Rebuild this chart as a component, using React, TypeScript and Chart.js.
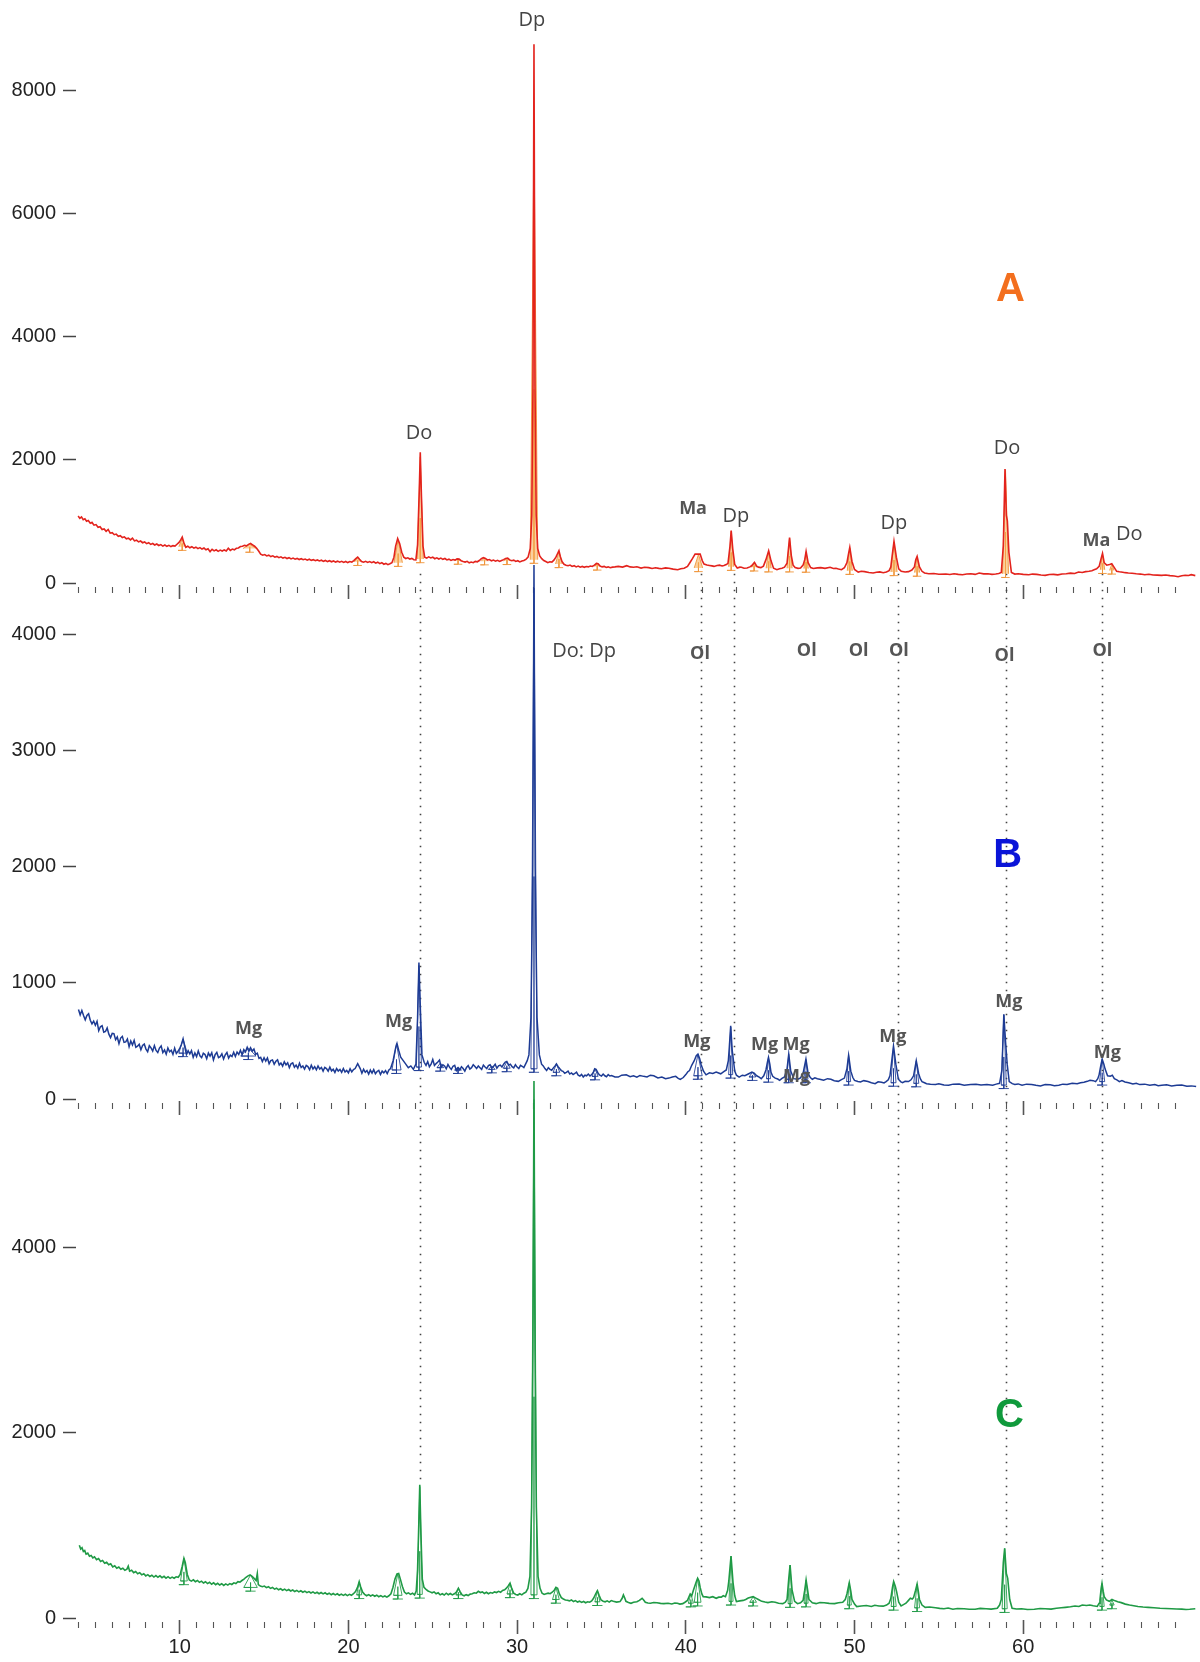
import React, { useEffect, useRef } from 'react';
import { Chart, registerables } from 'chart.js';

Chart.register(...registerables);

// ---------- data (2θ in degrees, intensity in counts) ----------
const patternA: [number, number][] = [
  [3.98, 1090], [4.08, 1050], [4.18, 1075], [4.28, 1030], [4.38, 1045], [4.48, 1005], [4.58, 1015], [4.7, 970], [4.8, 985], [4.92, 940],
  [5.04, 950], [5.16, 905], [5.28, 915], [5.4, 870], [5.52, 880], [5.64, 840], [5.76, 870], [5.88, 810], [6.0, 818], [6.12, 785],
  [6.24, 795], [6.36, 760], [6.48, 770], [6.6, 738], [6.72, 750], [6.84, 718], [6.96, 728], [7.08, 700], [7.2, 730], [7.32, 684],
  [7.44, 695], [7.56, 668], [7.68, 682], [7.8, 655], [7.92, 668], [8.04, 640], [8.16, 655], [8.28, 628], [8.4, 642], [8.52, 618],
  [8.64, 634], [8.76, 610], [8.88, 625], [9.0, 600], [9.12, 618], [9.24, 596], [9.36, 612], [9.48, 592], [9.6, 608], [9.72, 600],
  [9.84, 630], [9.96, 660], [10.06, 700], [10.15, 745], [10.25, 650], [10.36, 580], [10.48, 598], [10.6, 572], [10.72, 590], [10.84, 566],
  [10.96, 582], [11.08, 558], [11.2, 575], [11.32, 552], [11.44, 568], [11.56, 540], [11.68, 555], [11.8, 510], [11.92, 548], [12.04, 522],
  [12.16, 540], [12.28, 515], [12.4, 535], [12.52, 520], [12.64, 538], [12.76, 522], [12.88, 565], [13.0, 530], [13.12, 552], [13.24, 540],
  [13.36, 565], [13.48, 570], [13.6, 592], [13.72, 598], [13.84, 612], [13.96, 605], [14.08, 628], [14.2, 642], [14.32, 620], [14.44, 598],
  [14.56, 565], [14.68, 520], [14.8, 470], [14.92, 452], [15.04, 462], [15.16, 440], [15.28, 452], [15.4, 430], [15.52, 442], [15.64, 420],
  [15.76, 432], [15.88, 412], [16.0, 425], [16.12, 405], [16.24, 418], [16.36, 398], [16.48, 412], [16.6, 392], [16.72, 405], [16.84, 388],
  [16.96, 400], [17.08, 382], [17.2, 395], [17.32, 378], [17.44, 390], [17.56, 372], [17.68, 386], [17.8, 368], [17.92, 380], [18.04, 362],
  [18.16, 375], [18.28, 358], [18.4, 370], [18.52, 352], [18.64, 366], [18.76, 348], [18.88, 362], [19.0, 345], [19.12, 358], [19.24, 340],
  [19.36, 355], [19.48, 338], [19.6, 352], [19.72, 335], [19.84, 350], [19.96, 332], [20.08, 348], [20.2, 340], [20.32, 365], [20.44, 395],
  [20.55, 422], [20.66, 385], [20.78, 350], [20.9, 338], [21.02, 352], [21.14, 335], [21.26, 348], [21.38, 330], [21.5, 345], [21.62, 322],
  [21.74, 338], [21.86, 315], [21.98, 330], [22.1, 305], [22.22, 318], [22.34, 298], [22.46, 312], [22.58, 330], [22.7, 420], [22.8, 600],
  [22.92, 722], [23.04, 640], [23.16, 500], [23.28, 420], [23.4, 398], [23.52, 410], [23.64, 390], [23.76, 400], [23.88, 378], [24.0, 375],
  [24.1, 620], [24.2, 1500], [24.26, 2124], [24.33, 1400], [24.42, 600], [24.52, 420], [24.64, 405], [24.76, 425], [24.88, 408], [25.0, 420],
  [25.12, 395], [25.24, 410], [25.36, 390], [25.48, 405], [25.6, 385], [25.72, 398], [25.84, 375], [25.96, 388], [26.08, 368], [26.2, 382],
  [26.32, 372], [26.44, 392], [26.56, 388], [26.68, 362], [26.8, 350], [26.92, 340], [27.04, 352], [27.16, 328], [27.28, 340], [27.4, 330],
  [27.52, 352], [27.64, 345], [27.76, 365], [27.88, 395], [28.0, 412], [28.12, 400], [28.24, 375], [28.36, 382], [28.48, 360], [28.6, 372],
  [28.72, 355], [28.84, 368], [28.96, 350], [29.08, 365], [29.2, 380], [29.32, 400], [29.44, 405], [29.56, 375], [29.68, 362], [29.8, 372],
  [29.92, 350], [30.04, 362], [30.16, 342], [30.28, 358], [30.4, 365], [30.52, 385], [30.65, 420], [30.78, 560], [30.87, 1100], [30.94, 3200],
  [31.0, 8760], [31.06, 3200], [31.13, 1100], [31.22, 560], [31.34, 440], [31.46, 395], [31.58, 365], [31.7, 350], [31.82, 330], [31.94, 345],
  [32.06, 340], [32.18, 372], [32.3, 420], [32.4, 480], [32.48, 525], [32.56, 430], [32.66, 350], [32.78, 305], [32.9, 290], [33.02, 282],
  [33.14, 292], [33.26, 270], [33.38, 282], [33.5, 262], [33.62, 275], [33.74, 258], [33.86, 270], [33.98, 255], [34.1, 268], [34.22, 262],
  [34.34, 275], [34.46, 268], [34.58, 292], [34.7, 318], [34.8, 312], [34.92, 275], [35.04, 262], [35.16, 270], [35.28, 252], [35.4, 262],
  [35.52, 248], [35.66, 258], [35.8, 262], [36.0, 270], [36.25, 258], [36.5, 281], [36.7, 262], [36.9, 255], [37.1, 265], [37.35, 243],
  [37.55, 256], [37.8, 250], [38.0, 236], [38.2, 248], [38.4, 238], [38.55, 232], [38.8, 246], [39.0, 240], [39.25, 226], [39.52, 216],
  [39.7, 232], [39.9, 240], [40.1, 270], [40.24, 330], [40.4, 400], [40.55, 470], [40.85, 470], [40.98, 360], [41.08, 308], [41.25, 292],
  [41.4, 285], [41.55, 278], [41.67, 270], [41.85, 285], [42.0, 290], [42.15, 278], [42.26, 286], [42.4, 300], [42.5, 320], [42.62, 600],
  [42.69, 854], [42.78, 560], [42.9, 300], [43.05, 243], [43.2, 258], [43.3, 255], [43.45, 240], [43.63, 243], [43.8, 262], [43.9, 280],
  [44.07, 335], [44.2, 275], [44.3, 258], [44.45, 250], [44.6, 275], [44.75, 380], [44.91, 524], [45.05, 360], [45.2, 240], [45.4, 216],
  [45.55, 232], [45.7, 240], [45.85, 258], [46.0, 320], [46.1, 600], [46.15, 740], [46.25, 450], [46.36, 290], [46.48, 250], [46.65, 238],
  [46.8, 245], [46.95, 290], [47.05, 380], [47.13, 514], [47.25, 330], [47.4, 252], [47.56, 235], [47.8, 246], [48.0, 250], [48.25, 238],
  [48.55, 255], [48.75, 236], [48.9, 240], [49.05, 228], [49.23, 216], [49.4, 248], [49.55, 330], [49.65, 480], [49.72, 578], [49.85, 350],
  [50.0, 220], [50.22, 178], [50.4, 192], [50.6, 185], [50.85, 170], [51.1, 162], [51.3, 175], [51.5, 180], [51.7, 168], [51.89, 178],
  [52.05, 200], [52.15, 260], [52.25, 480], [52.34, 676], [52.48, 420], [52.62, 230], [52.77, 190], [53.0, 178], [53.2, 185], [53.4, 210],
  [53.55, 260], [53.63, 380], [53.71, 432], [53.85, 260], [54.0, 190], [54.15, 162], [54.4, 150], [54.7, 155], [55.0, 142], [55.42, 146],
  [55.65, 138], [55.9, 150], [56.15, 140], [56.4, 135], [56.65, 146], [56.9, 150], [57.15, 140], [57.39, 162], [57.65, 148], [57.9, 150],
  [58.15, 140], [58.37, 146], [58.55, 155], [58.7, 170], [58.82, 600], [58.92, 1854], [59.0, 1100], [59.06, 1011], [59.15, 500], [59.3, 170],
  [59.5, 145], [59.7, 150], [60.0, 140], [60.33, 135], [60.55, 145], [60.8, 140], [61.05, 130], [61.3, 124], [61.55, 138], [61.8, 140],
  [62.05, 132], [62.3, 146], [62.55, 150], [62.8, 160], [63.05, 155], [63.28, 178], [63.5, 170], [63.7, 185], [63.9, 192], [64.07, 200],
  [64.2, 215], [64.35, 230], [64.5, 270], [64.62, 400], [64.7, 481], [64.8, 330], [64.95, 290], [65.12, 300], [65.25, 313], [65.4, 250],
  [65.54, 190], [65.7, 182], [65.9, 175], [66.05, 168], [66.23, 162], [66.45, 158], [66.7, 150], [66.95, 145], [67.2, 135], [67.45, 142],
  [67.7, 130], [67.95, 128], [68.2, 124], [68.45, 130], [68.7, 120], [68.95, 115], [69.18, 103], [69.4, 118], [69.6, 125], [69.8, 122],
  [69.96, 135], [70.2, 120],
];

const patternB: [number, number][] = [
  [4.0, 771], [4.1, 724], [4.2, 762], [4.3, 720], [4.4, 682], [4.5, 720], [4.6, 734], [4.7, 678], [4.8, 647], [4.9, 671],
  [5.0, 635], [5.1, 669], [5.2, 588], [5.3, 622], [5.4, 631], [5.5, 575], [5.6, 581], [5.7, 612], [5.8, 558], [5.9, 529],
  [6.0, 565], [6.1, 563], [6.2, 511], [6.3, 534], [6.4, 477], [6.5, 525], [6.6, 539], [6.7, 488], [6.8, 492], [6.9, 516],
  [7.0, 450], [7.1, 500], [7.2, 465], [7.3, 505], [7.4, 445], [7.5, 455], [7.6, 472], [7.7, 424], [7.8, 461], [7.9, 473],
  [8.0, 430], [8.1, 407], [8.2, 459], [8.3, 441], [8.4, 413], [8.5, 460], [8.6, 418], [8.7, 401], [8.8, 439], [8.9, 457],
  [9.0, 400], [9.1, 423], [9.2, 386], [9.3, 439], [9.4, 407], [9.5, 420], [9.6, 384], [9.7, 438], [9.8, 392], [9.9, 411],
  [10.0, 435], [10.1, 470], [10.2, 518], [10.3, 450], [10.4, 382], [10.5, 415], [10.6, 388], [10.7, 416], [10.8, 359], [10.9, 397],
  [11.0, 365], [11.1, 414], [11.2, 372], [11.3, 356], [11.4, 394], [11.5, 383], [11.6, 347], [11.7, 396], [11.8, 369], [11.9, 398],
  [12.0, 337], [12.1, 382], [12.2, 401], [12.3, 356], [12.4, 365], [12.5, 390], [12.6, 345], [12.7, 381], [12.8, 401], [12.9, 352],
  [13.0, 377], [13.1, 365], [13.2, 403], [13.3, 366], [13.4, 404], [13.5, 383], [13.6, 420], [13.7, 382], [13.8, 425], [13.9, 406],
  [14.0, 445], [14.1, 410], [14.2, 442], [14.3, 413], [14.4, 430], [14.5, 385], [14.6, 395], [14.7, 350], [14.8, 358], [14.9, 323],
  [15.0, 355], [15.1, 326], [15.2, 353], [15.3, 304], [15.4, 331], [15.5, 337], [15.6, 299], [15.7, 325], [15.8, 337], [15.9, 293],
  [16.0, 310], [16.1, 283], [16.2, 321], [16.3, 294], [16.4, 312], [16.5, 270], [16.6, 303], [16.7, 311], [16.8, 274], [16.9, 292],
  [17.0, 265], [17.1, 308], [17.2, 271], [17.3, 284], [17.4, 257], [17.5, 290], [17.6, 279], [17.7, 252], [17.8, 291], [17.9, 259],
  [18.0, 278], [18.1, 251], [18.2, 285], [18.3, 258], [18.4, 272], [18.5, 240], [18.6, 273], [18.7, 262], [18.8, 240], [18.9, 274],
  [19.0, 242], [19.1, 256], [19.2, 229], [19.3, 263], [19.4, 241], [19.5, 255], [19.6, 229], [19.7, 263], [19.8, 232], [19.9, 246],
  [20.0, 225], [20.1, 260], [20.2, 234], [20.3, 254], [20.4, 262], [20.55, 305], [20.7, 262], [20.8, 222], [20.9, 256], [21.0, 230],
  [21.1, 245], [21.2, 214], [21.3, 249], [21.4, 223], [21.5, 253], [21.6, 217], [21.7, 237], [21.8, 246], [21.9, 211], [22.0, 240],
  [22.1, 225], [22.2, 244], [22.3, 219], [22.4, 250], [22.5, 262], [22.65, 330], [22.8, 440], [22.88, 478], [22.98, 420], [23.1, 360],
  [23.25, 330], [23.4, 300], [23.55, 270], [23.7, 285], [23.85, 255], [24.0, 300], [24.1, 700], [24.18, 1175], [24.26, 800], [24.36, 380],
  [24.49, 316], [24.6, 290], [24.7, 322], [24.8, 278], [24.9, 300], [25.0, 340], [25.1, 288], [25.2, 305], [25.3, 318], [25.4, 335],
  [25.5, 275], [25.6, 295], [25.7, 285], [25.8, 260], [25.9, 298], [26.0, 272], [26.1, 255], [26.2, 282], [26.3, 290], [26.4, 245],
  [26.5, 268], [26.6, 250], [26.7, 278], [26.8, 262], [26.9, 240], [27.0, 272], [27.1, 288], [27.2, 258], [27.3, 270], [27.4, 295],
  [27.5, 280], [27.6, 262], [27.7, 285], [27.8, 270], [27.9, 255], [28.0, 292], [28.1, 275], [28.2, 262], [28.3, 288], [28.4, 295],
  [28.5, 268], [28.6, 280], [28.7, 300], [28.8, 265], [28.9, 285], [29.0, 292], [29.1, 275], [29.2, 300], [29.3, 318], [29.39, 324],
  [29.5, 292], [29.6, 300], [29.7, 278], [29.8, 268], [29.9, 295], [30.0, 275], [30.1, 262], [30.2, 290], [30.3, 282], [30.4, 270],
  [30.5, 300], [30.6, 330], [30.7, 380], [30.82, 700], [30.93, 2000], [31.0, 4600], [31.07, 2000], [31.18, 700], [31.32, 380], [31.45, 300],
  [31.55, 285], [31.65, 262], [31.75, 245], [31.85, 270], [31.95, 255], [32.05, 248], [32.15, 268], [32.25, 285], [32.33, 302], [32.42, 280],
  [32.52, 262], [32.62, 245], [32.72, 238], [32.82, 222], [32.92, 230], [33.02, 240], [33.12, 215], [33.22, 225], [33.32, 210], [33.42, 220],
  [33.52, 232], [33.62, 205], [33.72, 198], [33.82, 212], [33.92, 190], [34.02, 205], [34.12, 200], [34.22, 215], [34.32, 198], [34.42, 210],
  [34.52, 232], [34.6, 260], [34.68, 255], [34.8, 222], [34.9, 205], [35.0, 198], [35.1, 215], [35.2, 200], [35.3, 192], [35.4, 210],
  [35.5, 198], [35.6, 202], [35.8, 190], [36.0, 189], [36.2, 205], [36.47, 208], [36.7, 192], [36.9, 200], [37.1, 188], [37.28, 203],
  [37.5, 195], [37.7, 190], [37.9, 205], [38.1, 200], [38.35, 182], [38.58, 189], [38.8, 175], [39.0, 180], [39.2, 190], [39.4, 195],
  [39.55, 178], [39.67, 169], [39.85, 185], [40.0, 210], [40.12, 235], [40.22, 245], [40.35, 290], [40.5, 330], [40.62, 372], [40.72, 386],
  [40.82, 350], [40.9, 300], [41.05, 240], [41.2, 208], [41.4, 225], [41.6, 220], [41.8, 232], [42.07, 217], [42.25, 235], [42.4, 250],
  [42.52, 330], [42.58, 450], [42.66, 631], [42.75, 420], [42.9, 240], [43.0, 205], [43.16, 189], [43.35, 205], [43.5, 200], [43.7, 215],
  [43.92, 231], [44.05, 222], [44.2, 200], [44.35, 188], [44.47, 175], [44.62, 200], [44.75, 250], [44.84, 320], [44.9, 358], [44.98, 300],
  [45.05, 230], [45.15, 195], [45.3, 180], [45.45, 172], [45.56, 161], [45.7, 178], [45.85, 190], [46.0, 260], [46.1, 386], [46.22, 240],
  [46.4, 175], [46.64, 170], [46.8, 182], [46.95, 220], [47.12, 344], [47.25, 220], [47.38, 185], [47.5, 170], [47.65, 182], [47.8, 175],
  [48.0, 168], [48.17, 161], [48.4, 175], [48.6, 170], [48.8, 158], [49.04, 152], [49.2, 165], [49.4, 180], [49.55, 260], [49.65, 377],
  [49.78, 240], [49.9, 185], [50.0, 160], [50.2, 150], [50.35, 146], [50.55, 158], [50.8, 150], [51.0, 140], [51.22, 132], [51.4, 148],
  [51.6, 145], [51.75, 138], [51.87, 150], [52.0, 165], [52.1, 200], [52.2, 320], [52.31, 456], [52.45, 300], [52.6, 170], [52.75, 148],
  [52.85, 140], [53.0, 152], [53.2, 150], [53.35, 165], [53.5, 200], [53.66, 330], [53.8, 220], [53.9, 175], [54.0, 150], [54.15, 140],
  [54.27, 132], [54.5, 128], [54.8, 125], [55.0, 132], [55.3, 120], [55.58, 118], [55.85, 128], [56.2, 130], [56.5, 118], [56.88, 124],
  [57.2, 128], [57.5, 120], [57.85, 125], [58.19, 118], [58.4, 128], [58.6, 135], [58.74, 250], [58.85, 730], [58.95, 500], [59.05, 300],
  [59.17, 150], [59.35, 132], [59.5, 125], [59.7, 130], [59.93, 118], [60.2, 128], [60.5, 125], [60.75, 118], [61.02, 113], [61.3, 125],
  [61.6, 122], [61.85, 115], [62.11, 118], [62.35, 128], [62.6, 125], [62.9, 135], [63.2, 132], [63.4, 140], [63.6, 145], [63.8, 152],
  [63.96, 161], [64.15, 158], [64.29, 150], [64.42, 175], [64.5, 210], [64.6, 290], [64.68, 344], [64.78, 300], [64.85, 260], [65.0, 200],
  [65.16, 197], [65.28, 205], [65.4, 175], [65.55, 165], [65.7, 150], [65.85, 158], [66.03, 146], [66.25, 140], [66.5, 130], [66.7, 135],
  [66.91, 124], [67.2, 128], [67.5, 118], [67.8, 125], [68.0, 115], [68.21, 118], [68.5, 122], [68.8, 112], [69.1, 118], [69.4, 120],
  [69.7, 110], [69.96, 113], [70.25, 108],
];

const patternC: [number, number][] = [
  [4.05, 785], [4.13, 745], [4.21, 760], [4.29, 718], [4.37, 728], [4.45, 690], [4.55, 700], [4.65, 668], [4.75, 676], [4.85, 648],
  [4.95, 660], [5.07, 630], [5.19, 642], [5.31, 610], [5.43, 622], [5.55, 592], [5.67, 603], [5.79, 575], [5.91, 585], [6.03, 552],
  [6.15, 565], [6.27, 538], [6.39, 550], [6.51, 526], [6.63, 538], [6.75, 515], [6.87, 528], [6.95, 560], [7.03, 505], [7.15, 515],
  [7.27, 490], [7.39, 502], [7.51, 478], [7.63, 490], [7.75, 466], [7.87, 478], [7.99, 455], [8.11, 468], [8.23, 448], [8.35, 462],
  [8.47, 442], [8.59, 458], [8.71, 440], [8.83, 455], [8.95, 436], [9.07, 450], [9.19, 430], [9.31, 446], [9.43, 428], [9.55, 442],
  [9.67, 430], [9.79, 445], [9.91, 440], [10.03, 470], [10.15, 560], [10.25, 645], [10.33, 600], [10.45, 470], [10.57, 410], [10.69, 398],
  [10.81, 412], [10.93, 392], [11.05, 405], [11.17, 385], [11.29, 398], [11.41, 378], [11.53, 392], [11.65, 372], [11.77, 386], [11.89, 365],
  [12.01, 380], [12.13, 360], [12.25, 375], [12.37, 356], [12.49, 370], [12.61, 352], [12.73, 368], [12.85, 355], [12.97, 372], [13.09, 362],
  [13.21, 380], [13.33, 372], [13.45, 392], [13.57, 388], [13.69, 405], [13.81, 420], [13.93, 440], [14.05, 455], [14.17, 465], [14.29, 450],
  [14.41, 428], [14.53, 405], [14.6, 480], [14.66, 360], [14.78, 345], [14.9, 338], [15.02, 345], [15.14, 328], [15.26, 338], [15.38, 320],
  [15.5, 330], [15.62, 312], [15.74, 322], [15.86, 305], [15.98, 316], [16.1, 300], [16.22, 312], [16.34, 296], [16.46, 308], [16.58, 292],
  [16.7, 302], [16.82, 286], [16.94, 298], [17.06, 282], [17.18, 294], [17.3, 278], [17.42, 290], [17.54, 274], [17.66, 285], [17.78, 270],
  [17.9, 282], [18.02, 266], [18.14, 278], [18.26, 262], [18.38, 275], [18.5, 260], [18.62, 272], [18.74, 256], [18.86, 268], [18.98, 252],
  [19.1, 265], [19.22, 250], [19.34, 262], [19.46, 246], [19.58, 258], [19.7, 244], [19.82, 256], [19.94, 242], [20.06, 255], [20.18, 245],
  [20.3, 262], [20.42, 285], [20.54, 330], [20.64, 392], [20.72, 340], [20.84, 280], [20.96, 255], [21.08, 240], [21.2, 252], [21.32, 238],
  [21.44, 250], [21.56, 235], [21.68, 246], [21.8, 230], [21.92, 242], [22.04, 228], [22.16, 238], [22.28, 225], [22.4, 240], [22.52, 262],
  [22.64, 330], [22.76, 420], [22.88, 475], [22.98, 480], [23.08, 420], [23.2, 340], [23.32, 280], [23.44, 262], [23.56, 272], [23.68, 255],
  [23.8, 268], [23.92, 250], [24.02, 290], [24.1, 520], [24.17, 1000], [24.23, 1438], [24.3, 900], [24.38, 420], [24.48, 330], [24.6, 310],
  [24.72, 292], [24.84, 282], [24.96, 272], [25.08, 282], [25.2, 262], [25.32, 272], [25.44, 250], [25.56, 262], [25.68, 248], [25.8, 268],
  [25.92, 252], [26.04, 265], [26.16, 250], [26.28, 262], [26.4, 280], [26.52, 322], [26.62, 285], [26.74, 250], [26.86, 240], [26.98, 252],
  [27.1, 242], [27.22, 258], [27.34, 262], [27.46, 272], [27.58, 268], [27.7, 288], [27.82, 275], [27.94, 282], [28.06, 265], [28.18, 278],
  [28.3, 262], [28.42, 275], [28.54, 268], [28.66, 282], [28.78, 275], [28.9, 288], [29.02, 278], [29.14, 298], [29.26, 305], [29.38, 325],
  [29.48, 350], [29.58, 378], [29.68, 320], [29.8, 268], [29.92, 255], [30.04, 248], [30.16, 262], [30.28, 250], [30.4, 268], [30.52, 280],
  [30.64, 320], [30.76, 450], [30.86, 1200], [30.94, 2900], [31.0, 5800], [31.06, 2900], [31.14, 1200], [31.24, 450], [31.36, 320], [31.48, 268],
  [31.6, 255], [31.72, 262], [31.84, 268], [31.96, 262], [32.08, 278], [32.2, 300], [32.3, 332], [32.4, 320], [32.5, 262], [32.62, 220],
  [32.74, 205], [32.86, 195], [32.98, 192], [33.1, 185], [33.22, 195], [33.34, 178], [33.46, 188], [33.58, 172], [33.7, 182], [33.82, 168],
  [33.94, 178], [34.06, 165], [34.18, 175], [34.3, 170], [34.42, 185], [34.54, 215], [34.66, 262], [34.76, 296], [34.86, 245], [34.98, 195],
  [35.1, 182], [35.22, 175], [35.34, 185], [35.46, 172], [35.58, 188], [35.7, 180], [35.9, 172], [36.1, 177], [36.22, 210], [36.3, 249],
  [36.38, 215], [36.45, 180], [36.6, 168], [36.75, 159], [36.9, 170], [37.1, 175], [37.25, 190], [37.41, 213], [37.5, 195], [37.6, 170],
  [37.75, 162], [37.9, 160], [38.1, 168], [38.29, 165], [38.5, 158], [38.7, 155], [38.95, 160], [39.17, 151], [39.35, 162], [39.5, 160],
  [39.65, 150], [39.82, 155], [39.95, 170], [40.1, 190], [40.2, 235], [40.26, 259], [40.35, 240], [40.45, 300], [40.6, 380], [40.7, 429],
  [40.78, 400], [40.85, 330], [40.95, 260], [41.03, 230], [41.2, 228], [41.4, 220], [41.6, 230], [41.8, 213], [41.95, 225], [42.1, 225],
  [42.22, 240], [42.35, 230], [42.48, 300], [42.55, 400], [42.68, 670], [42.8, 380], [42.9, 240], [43.0, 177], [43.2, 185], [43.4, 190],
  [43.55, 200], [43.7, 215], [43.85, 225], [43.99, 231], [44.15, 215], [44.3, 200], [44.5, 180], [44.7, 172], [44.87, 166], [45.1, 175],
  [45.3, 170], [45.5, 160], [45.75, 155], [45.9, 170], [46.0, 200], [46.1, 420], [46.18, 573], [46.3, 300], [46.45, 180], [46.62, 155],
  [46.8, 165], [46.95, 190], [47.05, 300], [47.13, 411], [47.22, 300], [47.3, 200], [47.5, 165], [47.72, 155], [47.95, 168], [48.2, 165],
  [48.5, 158], [48.82, 155], [49.05, 165], [49.3, 170], [49.45, 200], [49.55, 260], [49.69, 382], [49.78, 290], [49.85, 200], [50.0, 150],
  [50.13, 123], [50.4, 130], [50.7, 135], [51.0, 125], [51.2, 138], [51.45, 130], [51.7, 128], [51.9, 140], [52.05, 160], [52.15, 210],
  [52.25, 330], [52.32, 393], [52.42, 340], [52.5, 280], [52.62, 170], [52.76, 130], [52.9, 145], [53.05, 160], [53.2, 190], [53.31, 213],
  [53.42, 205], [53.5, 220], [53.62, 300], [53.71, 368], [53.78, 290], [53.85, 200], [54.0, 140], [54.19, 115], [54.45, 118], [54.8, 110],
  [55.05, 104], [55.3, 100], [55.55, 108], [55.83, 94], [56.1, 102], [56.5, 100], [56.8, 95], [57.15, 94], [57.45, 104], [57.8, 100],
  [58.1, 96], [58.46, 105], [58.6, 140], [58.7, 200], [58.82, 600], [58.9, 753], [59.0, 480], [59.08, 429], [59.2, 200], [59.34, 105],
  [59.6, 98], [59.9, 100], [60.25, 92], [60.66, 94], [61.0, 102], [61.3, 100], [61.65, 96], [61.97, 105], [62.25, 110], [62.5, 115],
  [62.8, 122], [63.07, 130], [63.3, 124], [63.5, 140], [63.75, 135], [63.95, 141], [64.15, 132], [64.39, 125], [64.5, 160], [64.55, 200],
  [64.62, 320], [64.67, 375], [64.74, 290], [64.8, 230], [64.93, 195], [65.1, 180], [65.26, 200], [65.45, 185], [65.6, 175], [65.81, 166],
  [66.05, 150], [66.3, 140], [66.55, 132], [66.8, 125], [67.1, 118], [67.4, 115], [67.75, 110], [68.11, 105], [68.45, 102], [68.8, 100],
  [69.1, 98], [69.4, 96], [69.65, 92], [69.87, 94], [70.2, 100],
];

// fitted peaks: [2θ centre, half width (°), background counts, apex counts]
const peakFitsA: number[][] = [
  [10.15, 0.2, 590, 720], [14.15, 0.4, 560, 630], [20.55, 0.2, 345, 410], [22.95, 0.25, 330, 700], [24.26, 0.18, 390, 2050],
  [26.5, 0.2, 365, 390], [28.07, 0.2, 355, 410], [29.4, 0.2, 360, 400], [31.0, 0.22, 380, 7300], [32.48, 0.2, 310, 510],
  [34.75, 0.15, 270, 315], [40.75, 0.25, 245, 465], [42.69, 0.15, 265, 840], [44.05, 0.15, 255, 330], [44.91, 0.15, 240, 515],
  [46.15, 0.15, 240, 730], [47.13, 0.13, 235, 505], [49.72, 0.15, 200, 570], [52.34, 0.18, 180, 665], [53.71, 0.15, 170, 425],
  [58.95, 0.18, 150, 1840], [64.7, 0.13, 215, 470], [65.25, 0.13, 205, 305],
];
const peakFitsB: number[][] = [
  [10.2, 0.25, 395, 515], [14.07, 0.45, 370, 440], [22.85, 0.27, 250, 478], [24.18, 0.15, 275, 1150], [25.45, 0.2, 270, 310],
  [26.5, 0.2, 250, 275], [28.5, 0.2, 255, 285], [29.39, 0.2, 265, 320], [31.0, 0.18, 260, 4400], [32.33, 0.2, 230, 300],
  [34.62, 0.18, 195, 258], [40.72, 0.25, 200, 386], [42.66, 0.12, 210, 620], [43.95, 0.2, 190, 230], [44.9, 0.12, 175, 355],
  [46.1, 0.12, 170, 385], [47.12, 0.12, 170, 340], [49.65, 0.12, 150, 375], [52.31, 0.15, 140, 450], [53.66, 0.15, 135, 328],
  [58.85, 0.15, 120, 725], [64.68, 0.15, 150, 342],
];
const peakFitsC: number[][] = [
  [10.25, 0.2, 400, 645], [14.2, 0.4, 330, 465], [20.64, 0.15, 250, 390], [22.93, 0.25, 245, 480], [24.23, 0.15, 255, 1420],
  [26.52, 0.15, 250, 320], [29.58, 0.18, 260, 375], [31.0, 0.18, 250, 5600], [32.3, 0.2, 200, 330], [34.76, 0.15, 175, 295],
  [40.3, 0.15, 160, 259], [40.7, 0.2, 170, 429], [42.68, 0.12, 180, 665], [43.99, 0.2, 170, 230], [46.18, 0.12, 155, 570],
  [47.13, 0.12, 160, 410], [49.69, 0.12, 140, 380], [52.32, 0.15, 125, 390], [53.71, 0.15, 110, 365], [58.9, 0.15, 100, 750],
  [64.67, 0.13, 125, 372], [65.26, 0.13, 140, 195],
];

// tick labels
const yTicksA = [0, 2000, 4000, 6000, 8000];
const yTicksB = [0, 1000, 2000, 3000, 4000];
const yTicksC = [0, 2000, 4000];
const xTickLabels = [10, 20, 30, 40, 50, 60];

// phase labels: text, 2θ anchor, intensity anchor
const phaseLabelsA = ['Dp', 'Do', 'Ma', 'Dp', 'Dp', 'Do', 'Ma', 'Do'];
const phaseLabelsA2Theta = [30.88, 24.19, 40.43, 42.96, 52.33, 59.04, 64.34, 66.29];
const phaseLabelsACounts = [9153, 2429, 1203, 1089, 966, 2195, 691, 797];

const phaseLabelsB = ['Do: Dp', 'Ol', 'Ol', 'Ol', 'Ol', 'Ol', 'Ol', 'Mg', 'Mg', 'Mg', 'Mg', 'Mg', 'Mg', 'Mg', 'Mg', 'Mg'];
const phaseLabelsB2Theta = [33.97, 40.84, 47.17, 50.24, 52.63, 58.89, 64.69, 14.08, 22.98, 40.65, 44.67, 46.53, 46.56, 52.27, 59.15, 64.99];
const phaseLabelsBCounts = [3859, 3833, 3861, 3861, 3861, 3816, 3861, 607, 668, 491, 463, 463, 189, 534, 835, 399];

// sample letters
const sampleNames = ['A', 'B', 'C'];
const sampleName2Theta = [59.24, 59.08, 59.18];
const sampleNameCounts = [4763, 2093, 2187];

// reference (dotted) lines across the three patterns
const refLines2Theta = [24.25, 40.9, 42.85, 52.55, 59.0, 64.65];
const refLinesEndC = [1490, 465, 770, 395, 770, 465];
const refLineStartA = 150;

const BOLD_PHASES = new Set(['Ma', 'Mg', 'Ol']);

const X_MIN = 3.853;
const X_MAX = 70.36;

const toXY = (p: [number, number][]) => p.map(([x, y]) => ({ x, y }));

// triangles of the fitted peaks (one closed piece per peak)
const fitTriangles = (fits: number[][]) => {
  const pts: { x: number; y: number | null }[] = [];
  fits.forEach(([c, hw, b, a]) => {
    pts.push({ x: c - hw, y: b }, { x: c, y: a }, { x: c + hw, y: b }, { x: c, y: null });
  });
  return pts;
};
// outline + "⊥" mark under every fitted peak
const fitMarks = (fits: number[][], drop: number, barHW: number, outline: boolean) => {
  const pts: { x: number; y: number | null }[] = [];
  fits.forEach(([c, hw, b, a]) => {
    if (outline) pts.push({ x: c - hw, y: b }, { x: c, y: a }, { x: c + hw, y: b }, { x: c - hw, y: b }, { x: c, y: b });
    pts.push(
      { x: c, y: b + (a - b) * 0.4 },
      { x: c, y: b - drop },
      { x: c - barHW, y: b - drop },
      { x: c + barHW, y: b - drop },
      { x: c, y: null }
    );
  });
  return pts;
};

const xAxis = (pos: any, labels: boolean) => ({
  type: 'linear',
  axis: 'x',
  position: pos,
  min: X_MIN,
  max: X_MAX,
  border: { display: false },
  grid: {
    drawOnChartArea: false,
    drawTicks: true,
    tickLength: 16,
    tickColor: (c: any) => (c.tick && c.tick.value >= 70 ? 'rgba(0,0,0,0)' : '#555'),
    tickWidth: (c: any) => (c.tick && c.tick.value % 10 === 0 ? 1.6 : 1.1),
    tickBorderDash: (c: any) => (c.tick && c.tick.value % 10 === 0 ? [0, 2, 14, 100] : [0, 4, 6, 100]),
  },
  ticks: {
    display: labels,
    stepSize: 1,
    autoSkip: false,
    maxRotation: 0,
    includeBounds: false,
    padding: 1,
    color: '#222',
    font: { family: '"Liberation Sans", Arial, sans-serif', size: 20 },
    callback: (v: any) => (xTickLabels.includes(v) ? String(v) : ''),
  },
});

const yAxis = (ticksArr: number[], max: number, weight: number, stackWeight: number) => ({
  type: 'linear',
  axis: 'y',
  position: 'left',
  stack: 'xrd',
  stackWeight,
  weight,
  min: 0,
  max,
  border: { display: false },
  grid: { drawOnChartArea: false, drawTicks: true, tickLength: 13, tickColor: '#444', tickWidth: 1.5 },
  ticks: {
    includeBounds: false,
    padding: 7,
    color: '#222',
    font: { family: '"Liberation Sans", Arial, sans-serif', size: 20 },
    callback: (v: any) => String(v),
  },
  afterBuildTicks: (s: any) => {
    s.ticks = ticksArr.map((v) => ({ value: v }));
  },
  afterFit: (s: any) => {
    s.width = 76;
  },
});

const overlayPlugin = {
  id: 'xrdOverlay',
  beforeDatasetsDraw(chart: any) {
    const { ctx, scales } = chart;
    ctx.save();
    ctx.strokeStyle = '#444';
    ctx.lineWidth = 1.6;
    ctx.setLineDash([1.6, 6.4]);
    refLines2Theta.forEach((t, i) => {
      const x = Math.round(scales.x.getPixelForValue(t)) + 0.5;
      ctx.beginPath();
      ctx.moveTo(x, scales.yA.getPixelForValue(refLineStartA));
      ctx.lineTo(x, scales.yC.getPixelForValue(refLinesEndC[i]));
      ctx.stroke();
    });
    ctx.restore();
  },
  afterDatasetsDraw(chart: any) {
    const { ctx, scales } = chart;
    ctx.save();
    ctx.textAlign = 'center';
    ctx.textBaseline = 'middle';
    const drawLabel = (text: string, x: number, y: number) => {
      const bold = BOLD_PHASES.has(text);
      ctx.font = bold ? '700 18px "Open Sans", sans-serif' : '400 20px "Open Sans", sans-serif';
      ctx.fillStyle = bold ? '#555' : '#444';
      ctx.fillText(text, x, y);
    };
    phaseLabelsA.forEach((t, i) =>
      drawLabel(t, scales.x.getPixelForValue(phaseLabelsA2Theta[i]), scales.yA.getPixelForValue(phaseLabelsACounts[i]))
    );
    phaseLabelsB.forEach((t, i) =>
      drawLabel(t, scales.x.getPixelForValue(phaseLabelsB2Theta[i]), scales.yB.getPixelForValue(phaseLabelsBCounts[i]))
    );
    const letterColors = ['#f36f1e', '#0a14d8', '#109a3c'];
    const letterAxes = ['yA', 'yB', 'yC'];
    ctx.font = '700 40px "Liberation Sans", Arial, sans-serif';
    sampleNames.forEach((n, i) => {
      ctx.fillStyle = letterColors[i];
      ctx.fillText(n, scales.x.getPixelForValue(sampleName2Theta[i]), scales[letterAxes[i]].getPixelForValue(sampleNameCounts[i]));
    });
    ctx.restore();
  },
};

const lineDs = (label: string, data: any[], yAxisID: string, color: string, width: number, extra: any = {}) =>
  ({
    label,
    data,
    yAxisID,
    xAxisID: 'x',
    borderColor: color,
    borderWidth: width,
    pointRadius: 0,
    tension: 0,
    clip: false,
    spanGaps: false,
    fill: false,
    ...extra,
  } as any);

export default function App() {
  const ref = useRef<HTMLCanvasElement | null>(null);
  useEffect(() => {
    if (!ref.current) return;
    const chart = new Chart(ref.current, {
      type: 'line',
      data: {
        datasets: [
          lineDs('A', toXY(patternA), 'yA', '#e3231d', 1.6),
          lineDs('A fits', fitTriangles(peakFitsA), 'yA', 'rgba(240,150,60,0.9)', 1, {
            fill: 'shape',
            backgroundColor: 'rgba(248,172,80,0.55)',
          }),
          lineDs('A fit marks', fitMarks(peakFitsA, 60, 0.25, false), 'yA', 'rgba(240,150,60,0.9)', 1),
          lineDs('B', toXY(patternB), 'yB', '#1d3b94', 1.5),
          lineDs('B fit marks', fitMarks(peakFitsB, 30, 0.3, true), 'yB', 'rgba(29,59,148,0.85)', 1),
          lineDs('C', toXY(patternC), 'yC', '#1f9a45', 1.6),
          lineDs('C fit marks', fitMarks(peakFitsC, 40, 0.3, true), 'yC', 'rgba(31,154,69,0.85)', 1),
        ],
      },
      options: {
        responsive: false,
        animation: false,
        devicePixelRatio: 1,
        layout: { padding: { left: 0, right: 2, top: 30, bottom: 44 } },
        plugins: { legend: { display: false }, tooltip: { enabled: false } },
        scales: {
          x: xAxis({ yC: 0 }, true),
          xA: xAxis({ yA: 0 }, false),
          xB: xAxis({ yB: 0 }, false),
          yA: yAxis(yTicksA, 8990, 3, 553),
          yB: yAxis(yTicksB, 4444, 2, 516),
          yC: yAxis(yTicksC, 5606, 1, 519),
        } as any,
      },
      plugins: [overlayPlugin],
    });
    return () => chart.destroy();
  }, []);
  return (
    <div style={{ position: 'absolute', left: 0, top: 0, width: 1200, height: 1662, background: '#fff' }}>
      <canvas ref={ref} width={1200} height={1662} style={{ display: 'block', width: 1200, height: 1662 }} />
    </div>
  );
}
